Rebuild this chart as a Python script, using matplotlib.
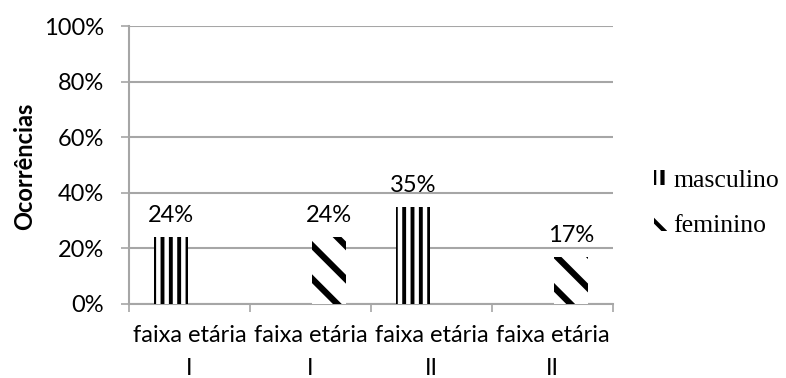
import numpy as np
import matplotlib
matplotlib.use('Agg')
import matplotlib.pyplot as plt
from matplotlib.ticker import PercentFormatter

# Occurrences by age band, share of total (%)
categorias = ['faixa etária\nI', 'faixa etária\nI', 'faixa etária\nII', 'faixa etária\nII']
masculino = [24, np.nan, 35, np.nan]
feminino = [np.nan, 24, np.nan, 17]

plt.rcParams['font.family'] = ['Lato', 'DejaVu Sans']
grey = '#a6a6a6'
fs = 17

fig = plt.figure(figsize=(7.86, 3.78), dpi=100)
ax = fig.add_axes([0.1641, 0.1958, 0.6158, 0.7341])

x = np.arange(len(categorias))
w = 0.28

with plt.rc_context({'hatch.linewidth': 2.8}):
    b1 = ax.bar(x - 0.15, masculino, w, color='white', edgecolor='black',
                linewidth=0, hatch='||', label='masculino', zorder=3)
with plt.rc_context({'hatch.linewidth': 4.5}):
    b2 = ax.bar(x + 0.15, feminino, w, color='white', edgecolor='black',
                linewidth=0, hatch='\\', label='feminino', zorder=3)

# value labels above the bars
for bars, vals in [(b1, masculino), (b2, feminino)]:
    for rect, v in zip(bars, vals):
        if np.isnan(v):
            continue
        ax.annotate('%d%%' % v, (rect.get_x() + rect.get_width() / 2, v),
                    xytext=(0, 8), textcoords='offset points',
                    ha='center', va='bottom', fontsize=fs)

ax.set_xlim(-0.5, len(categorias) - 0.5)
ax.set_ylim(0, 100)
ax.set_yticks(np.arange(0, 101, 20))
ax.yaxis.set_major_formatter(PercentFormatter(decimals=0))
ax.yaxis.grid(True, color=grey, linewidth=1.5, zorder=0)
ax.set_axisbelow(True)

# category labels centred, ticks on the boundaries
ax.set_xticks(x)
ax.set_xticklabels(categorias, fontsize=fs, linespacing=1.7)
ax.set_xticks(np.arange(len(categorias) + 1) - 0.5, minor=True)
ax.tick_params(axis='x', which='major', length=0, pad=15)
ax.tick_params(axis='x', which='minor', length=6, color=grey, width=1.2)
ax.tick_params(axis='y', length=6, color=grey, width=1.2, labelsize=fs, pad=12)

for s in ['top', 'right']:
    ax.spines[s].set_visible(False)
for s in ['left', 'bottom']:
    ax.spines[s].set_color(grey)
    ax.spines[s].set_linewidth(1.5)

fig.text(0.031, 0.561, 'Ocorrências', rotation=90, ha='center', va='center',
         fontsize=fs, fontweight='bold')

with plt.rc_context({'hatch.linewidth': 3.0}):
    ax.legend(loc='center left', bbox_to_anchor=(0.803, 0.462), bbox_transform=fig.transFigure,
              frameon=False, prop={'family': 'Liberation Serif', 'size': 18.5},
              handlelength=0.5, handleheight=0.55, handletextpad=0.25, labelspacing=0.9)

fig.savefig('out.png', dpi=100)
